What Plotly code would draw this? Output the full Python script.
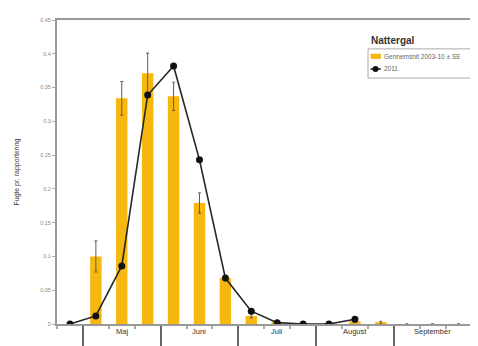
import plotly.graph_objects as go

periods = ["Apr 3", "Maj 1", "Maj 2", "Maj 3", "Jun 1", "Jun 2", "Jun 3",
           "Jul 1", "Jul 2", "Jul 3", "Aug 1", "Aug 2", "Aug 3",
           "Sep 1", "Sep 2", "Sep 3"]
avg_2003_10 = [0, 0.100, 0.334, 0.371, 0.337, 0.179, 0.068, 0.012, 0.002, 0.001,
               0.001, 0.004, 0.002, 0, 0, 0]
avg_se = [0, 0.023, 0.025, 0.030, 0.021, 0.015, 0.004, 0.003, 0.001, 0,
          0, 0.002, 0.002, 0, 0, 0]
y2011 = [0, 0.012, 0.086, 0.339, 0.382, 0.243, 0.068, 0.019, 0.002, 0, 0, 0.007,
         None, None, None, None]
months = ["Maj", "Juni", "Juli", "August", "September"]
month_first_period = [1, 4, 7, 10, 13]
yticks = [0, 0.05, 0.1, 0.15, 0.2, 0.25, 0.3, 0.35, 0.4, 0.45]
ytick_text = ["0", "0.05", "0.1", "0.15", "0.2", "0.25", "0.3", "0.35", "0.4", "0.45"]
bar_name = "Gennemsnit 2003-10 ± SE"
line_name = "2011"
title_text = "Nattergal"

BAR_COLOR = "#F6B80F"
LINE_COLOR = "#262626"

x = list(range(len(periods)))

fig = go.Figure()
fig.add_trace(go.Bar(
    x=x, y=avg_2003_10, name=bar_name, showlegend=False,
    marker=dict(color=BAR_COLOR, line=dict(width=0)),
    width=0.44,
    error_y=dict(type="data", array=avg_se, visible=True, color="#6b5a45",
                 thickness=1, width=1.5),
    hovertext=periods,
))
fig.add_trace(go.Scatter(
    x=x, y=y2011, name=line_name, mode="lines+markers", showlegend=False,
    line=dict(color=LINE_COLOR, width=1.6),
    marker=dict(color="#111111", size=7),
    hovertext=periods,
))

seps = [m - 0.5 for m in month_first_period] + [month_first_period[-1] + 2.5]
for i, m in enumerate(months):
    fig.add_annotation(x=month_first_period[i] + 1, y=-0.045, xref="x", yref="paper",
                       text=m, showarrow=False,
                       font=dict(size=7.5, color="#333333", family="Liberation Sans"))

# hand-drawn legend box (compact, like the reference)
shapes = [
    dict(type="rect", xref="paper", yref="paper", x0=0.725, x1=0.998, y0=0.809, y1=0.905,
         line=dict(color="#aaa", width=1), fillcolor="white", layer="above"),
    dict(type="rect", xref="paper", yref="paper", x0=0.731, x1=0.755, y0=0.872, y1=0.889,
         line=dict(width=0), fillcolor=BAR_COLOR, layer="above"),
    dict(type="line", xref="paper", yref="paper", x0=0.731, x1=0.755, y0=0.839, y1=0.839,
         line=dict(color=LINE_COLOR, width=1.6), layer="above"),
    dict(type="circle", xref="paper", yref="paper", x0=0.7355, x1=0.7495, y0=0.829, y1=0.849,
         line=dict(width=0), fillcolor="#111111", layer="above"),
]
fig.add_annotation(x=0.758, y=0.880, xref="paper", yref="paper", xanchor="left",
                   yanchor="middle", text=bar_name, showarrow=False,
                   font=dict(size=6.5, color="#666666", family="Liberation Sans"))
fig.add_annotation(x=0.758, y=0.839, xref="paper", yref="paper", xanchor="left",
                   yanchor="middle", text=line_name, showarrow=False,
                   font=dict(size=6.5, color="#666666", family="Liberation Sans"))
fig.add_annotation(x=0.728, y=0.934, xref="paper", yref="paper", xanchor="left",
                   yanchor="middle", text="<b>" + title_text + "</b>", showarrow=False,
                   font=dict(size=10, color="#333333", family="Liberation Sans"))

fig.update_layout(
    width=478, height=346,
    margin=dict(l=49, r=0, t=12, b=30),
    paper_bgcolor="white", plot_bgcolor="white",
    showlegend=False,
    barmode="overlay",
    shapes=shapes,
    font=dict(family="Liberation Sans"),
)

fig.update_xaxes(
    range=[-0.5, 16.06],
    showline=True, linecolor="#999", linewidth=2, mirror=True,
    showgrid=False, zeroline=False,
    tickmode="array", tickvals=seps, ticks="outside", ticklen=30,
    tickcolor="#666", tickwidth=1.5, showticklabels=False,
    minor=dict(ticks="outside", ticklen=3, tickcolor="#aaa", tick0=-0.5, dtick=1),
)
fig.update_yaxes(
    range=[0, 0.45],
    showline=True, linecolor="#999", linewidth=2,
    showgrid=False, zeroline=False,
    tickmode="array", tickvals=yticks, ticktext=ytick_text,
    ticks="outside", ticklen=3, tickcolor="#aaa",
    tickfont=dict(size=5.5, color="#888"),
    title=dict(text="Fugle pr. rapportering", font=dict(size=7, color="#333"), standoff=20),
)

fig.write_html("out.html")
